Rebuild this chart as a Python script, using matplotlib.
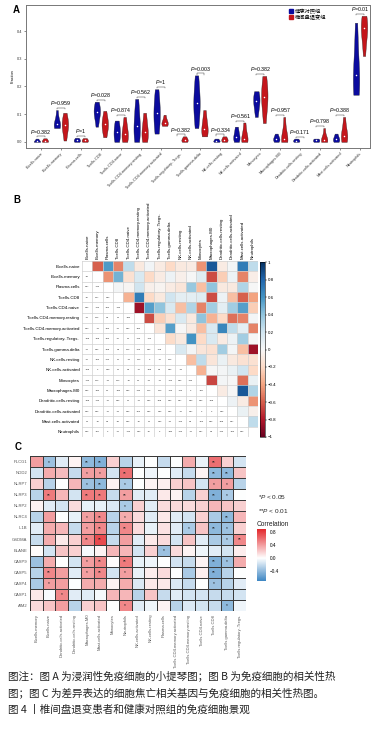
import numpy as np
import matplotlib
matplotlib.use("Agg")
import matplotlib.pyplot as plt
from matplotlib.patches import Patch
from matplotlib.colors import LinearSegmentedColormap, Normalize

plt.rcParams['font.family'] = ['Liberation Sans', 'Noto Sans CJK SC', 'DejaVu Sans']
plt.rcParams['mathtext.fontset'] = 'custom'
plt.rcParams['mathtext.it'] = 'Liberation Sans:italic'
plt.rcParams['mathtext.rm'] = 'Liberation Sans'

W, H = 384, 733

# ---------------- data: panel A (violins) ----------------
cell_types = ['B.cells.naive', 'B.cells.memory', 'Plasma.cells', 'T.cells.CD8',
              'T.cells.CD4.naive', 'T.cells.CD4.memory.resting',
              'T.cells.CD4.memory.activated', 'T.cells.regulatory..Tregs.',
              'T.cells.gamma.delta', 'NK.cells.resting', 'NK.cells.activated',
              'Monocytes', 'Macrophages.M0', 'Dendritic.cells.resting',
              'Dendritic.cells.activated', 'Mast.cells.activated', 'Neutrophils']

ctrl = [[0, 0, 0.002, 0.006, 0.012],
        [0.05, 0.055, 0.062, 0.064, 0.08, 0.115],
        [0, 0.003, 0.006, 0.01, 0.015],
        [0.055, 0.09, 0.105, 0.112, 0.125, 0.145],
        [0.0, 0.01, 0.03, 0.04, 0.06, 0.077],
        [0, 0.02, 0.05, 0.065, 0.11, 0.155],
        [0.03, 0.06, 0.1, 0.11, 0.15, 0.19],
        [0, 0, 0, 0, 0],
        [0.05, 0.1, 0.13, 0.15, 0.19, 0.24],
        [0, 0.002, 0.004, 0.008, 0.012],
        [0, 0.01, 0.015, 0.02, 0.04, 0.055],
        [0.09, 0.12, 0.145, 0.152, 0.165, 0.183],
        [0, 0.005, 0.01, 0.012, 0.02, 0.03],
        [0, 0.002, 0.005, 0.008, 0.012],
        [0, 0.002, 0.006, 0.009, 0.012],
        [0, 0.004, 0.008, 0.012, 0.02, 0.03],
        [0.17, 0.19, 0.2, 0.24, 0.27, 0.35, 0.43]]

disease = [[0, 0.001, 0.004, 0.008, 0.013],
           [0.005, 0.04, 0.06, 0.065, 0.075, 0.105],
           [0, 0.002, 0.006, 0.009, 0.014],
           [0.017, 0.045, 0.06, 0.068, 0.08, 0.112],
           [0, 0.01, 0.025, 0.032, 0.055, 0.09],
           [0, 0.015, 0.03, 0.04, 0.07, 0.105],
           [0.058, 0.063, 0.067, 0.07, 0.08, 0.098],
           [0, 0.003, 0.008, 0.012, 0.02],
           [0.02, 0.03, 0.045, 0.05, 0.08, 0.115],
           [0, 0.004, 0.008, 0.013, 0.02],
           [0, 0.005, 0.01, 0.012, 0.04, 0.07],
           [0.068, 0.13, 0.155, 0.168, 0.2, 0.238],
           [0, 0.003, 0.008, 0.01, 0.04, 0.09],
           [0, 0, 0, 0, 0],
           [0, 0.003, 0.005, 0.008, 0.02, 0.05],
           [0, 0.01, 0.02, 0.025, 0.05, 0.09],
           [0.31, 0.36, 0.39, 0.41, 0.42, 0.44, 0.455]]

p_values = ['0.382', '0.959', '1', '0.028', '0.874', '0.562', '1', '0.382', '0.003',
            '0.334', '0.561', '0.382', '0.957', '0.171', '0.798', '0.388', '0.01']

group_names = ['健康对照组', '椎间盘退变组']

# ---------------- data: panel B (correlation of immune cells) ----------------
# upper triangle, row i holds columns i+1 .. 16
b_upper = [
    [-0.6, 0.57, -0.5, 0.25, -0.1, 0.03, -0.08, -0.2, -0.1, -0.08, -0.45, 0.85, -0.08, 0.02, 0.7, 0.25],
    [-0.45, 0.47, -0.15, 0.15, -0.2, -0.08, 0.05, -0.05, 0.0, 0.12, -0.65, -0.25, 0.05, -0.5, -0.07],
    [0.02, -0.02, 0.2, -0.05, -0.03, -0.08, -0.12, 0.38, -0.3, 0.4, -0.1, -0.1, 0.3, 0.0],
    [-0.35, 0.7, -0.2, -0.1, 0.2, 0.1, 0.1, 0.12, -0.65, 0.05, -0.3, -0.6, -0.4],
    [-0.85, 0.55, 0.4, 0.15, -0.3, 0.3, -0.5, 0.35, 0.1, 0.35, 0.55, -0.25],
    [-0.65, -0.25, -0.15, 0.15, -0.1, 0.4, -0.35, -0.2, -0.55, -0.5, 0.02],
    [-0.12, 0.55, 0.0, -0.08, -0.3, 0.15, 0.65, 0.25, 0.1, -0.5],
    [-0.18, -0.1, 0.6, -0.2, 0.15, -0.08, 0.05, 0.35, 0.0],
    [0.15, 0.02, -0.12, -0.15, 0.35, 0.02, -0.3, -0.85],
    [-0.3, 0.25, -0.12, 0.07, -0.1, -0.15, -0.15],
    [-0.35, 0.0, 0.02, 0.07, 0.2, -0.2],
    [-0.67, 0.02, 0.0, -0.55, 0.07],
    [-0.08, 0.0, 0.85, 0.3],
    [0.05, -0.08, -0.45],
    [0.07, -0.05],
    [0.25],
]

# ---------------- data: panel C (genes vs immune cells) ----------------
genes = ['PLCG1', 'NOD2', 'NLRP7', 'NLRP3', 'NLRP2', 'NLRC4', 'IL1B', 'GSDMA',
         'ELANE', 'CASP9', 'CASP5', 'CASP4', 'CASP1', 'AIM2']
c_cells = ['B.cells.memory', 'B.cells.naive', 'Dendritic.cells.activated',
           'Dendritic.cells.resting', 'Macrophages.M0', 'Mast.cells.activated',
           'Monocytes', 'Neutrophils', 'NK.cells.activated', 'NK.cells.resting',
           'Plasma.cells', 'T.cells.CD4.memory.activated', 'T.cells.CD4.memory.resting',
           'T.cells.CD4.naive', 'T.cells.CD8', 'T.cells.gamma.delta',
           'T.cells.regulatory..Tregs.']
c_vals = [
    [0.4, -0.35, -0.1, 0.05, -0.4, -0.45, 0.2, -0.25, -0.08, 0.0, -0.2, 0.0, 0.35, -0.07, 0.6, 0.2, -0.15],
    [-0.15, 0.35, 0.28, -0.2, 0.4, 0.4, -0.15, 0.6, 0.0, -0.05, 0.0, -0.1, -0.2, 0.05, -0.4, -0.4, 0.25],
    [0.2, -0.25, 0.0, 0.3, -0.35, -0.4, 0.05, -0.3, 0.0, 0.05, 0.07, 0.2, 0.25, -0.15, 0.4, 0.4, -0.25],
    [-0.25, 0.55, 0.3, -0.15, 0.55, 0.55, -0.2, 0.4, -0.1, -0.1, 0.1, 0.05, -0.25, 0.2, -0.45, -0.3, 0.0],
    [0.05, -0.1, -0.15, 0.15, -0.08, -0.08, -0.12, -0.3, 0.2, -0.1, 0.15, 0.15, 0.15, 0.2, 0.3, 0.25, 0.2],
    [-0.25, 0.4, 0.0, -0.08, 0.4, 0.5, -0.25, 0.35, 0.15, -0.1, 0.1, -0.1, -0.15, 0.2, -0.3, -0.4, 0.3],
    [-0.1, 0.35, 0.3, -0.2, 0.4, 0.5, -0.25, 0.5, 0.15, -0.08, 0.12, -0.1, -0.3, 0.25, -0.4, -0.35, 0.2],
    [-0.2, 0.35, 0.1, 0.2, 0.5, 0.75, -0.2, 0.4, -0.1, 0.1, 0.15, -0.15, 0.25, -0.1, -0.3, -0.3, 0.5],
    [0.02, -0.15, 0.25, 0.2, -0.03, 0.05, 0.3, 0.3, -0.15, 0.2, -0.35, 0.15, 0.05, -0.05, -0.1, -0.15, 0.08],
    [-0.35, 0.35, 0.0, -0.15, 0.4, 0.5, 0.02, 0.55, -0.08, -0.05, 0.0, -0.15, -0.2, 0.05, -0.45, -0.35, 0.35],
    [-0.25, 0.5, 0.4, -0.1, 0.4, 0.5, -0.15, 0.4, -0.08, 0.08, 0.15, 0.0, -0.3, 0.07, -0.45, -0.25, 0.0],
    [-0.3, 0.4, 0.4, 0.0, 0.35, 0.35, 0.05, 0.35, -0.12, 0.1, 0.1, -0.12, -0.2, 0.0, -0.35, -0.25, -0.1],
    [0.1, -0.02, 0.5, -0.1, -0.1, -0.03, 0.3, 0.3, -0.25, 0.25, -0.2, -0.1, -0.15, -0.15, -0.2, -0.2, -0.15],
    [0.15, 0.25, 0.4, -0.25, 0.2, 0.25, 0.0, 0.5, -0.1, -0.05, 0.05, -0.25, -0.12, -0.15, -0.2, -0.4, -0.05],
]
# 0 = ns, 1 = *, 2 = **
c_sig = ['01002200000000200', '00001102000000220', '00001201000000110',
         '02002202000000210', '00000001000000000', '00001201000000020',
         '00001202000010210', '00002200000000012', '00000000001000000',
         '00001202000000210', '02001201000000200', '01000000000000100',
         '00100000000000000', '00000001000000010']

caption = ['图注：图 A 为浸润性免疫细胞的小提琴图；图 B 为免疫细胞的相关性热',
           '图；图 C 为差异表达的细胞焦亡相关基因与免疫细胞的相关性热图。',
           '图 4 丨椎间盘退变患者和健康对照组的免疫细胞景观']


def box(x0, y0, x1, y1):
    return [x0 / W, 1 - y1 / H, (x1 - x0) / W, (y1 - y0) / H]


fig = plt.figure(figsize=(W / 100, H / 100), dpi=100)

# ================= panel A =================
blue, red = '#0B0B9E', '#C4161C'
ax = fig.add_axes(box(26, 5, 370, 148))
for i in range(len(cell_types)):
    for vals, off, col in [(ctrl[i], -0.2, blue), (disease[i], 0.2, red)]:
        v = np.array(vals, dtype=float)
        if np.ptp(v) == 0:
            continue
        parts = ax.violinplot([v], positions=[i + off], widths=0.32,
                              showextrema=False, bw_method=0.8)
        for b in parts['bodies']:
            b.set_facecolor(col)
            b.set_edgecolor('#222222')
            b.set_linewidth(0.25)
            b.set_alpha(1)
        ax.scatter([i + off], [np.median(v)], s=1.2, c='white', zorder=3, linewidths=0)
    top = max(max(ctrl[i]), max(disease[i])) + 0.007
    ax.plot([i - 0.2, i - 0.2, i + 0.2, i + 0.2], [top - 0.004, top, top, top - 0.004],
            color='#222222', lw=0.3)
    ax.text(i, top + 0.003, r'$P$=' + p_values[i], ha='center', va='bottom', fontsize=3.8)

ax.set_xlim(-0.75, 16.5)
ax.set_ylim(-0.022, 0.494)
ax.set_yticks([0, 0.1, 0.2, 0.3, 0.4])
ax.set_yticklabels(['0.0', '0.1', '0.2', '0.3', '0.4'])
ax.set_xticks(range(len(cell_types)))
ax.set_xticklabels(cell_types, rotation=45, ha='right', rotation_mode='anchor')
ax.tick_params(labelsize=2.8, length=1.5, width=0.4, pad=1, colors='#333333')
ax.set_ylabel('Fraction', fontsize=2.8, labelpad=2)
for s in ax.spines.values():
    s.set_color('#777777')
    s.set_linewidth(0.7)
ax.legend(handles=[Patch(color=blue), Patch(color=red)], labels=group_names,
          loc='upper left', bbox_to_anchor=(0.755, 1.0), frameon=False, fontsize=3.8,
          handlelength=0.8, handleheight=0.8, handletextpad=0.4, labelspacing=0.15,
          borderaxespad=0.2)
fig.text(13 / W, 1 - 10 / H, 'A', fontsize=7, fontweight='bold', va='center')

# ================= panel B =================
n = len(cell_types)
M = np.eye(n)
for i, row in enumerate(b_upper):
    for k, v in enumerate(row):
        j = i + 1 + k
        M[i, j] = v
        M[j, i] = v

cmapB = plt.get_cmap('RdBu')
normB = Normalize(-1, 1)
rgba = cmapB(normB(M))
for i in range(n):
    for j in range(n):
        if j <= i:
            rgba[i, j] = (1, 1, 1, 1)

axB = fig.add_axes(box(82, 261, 258, 437))
axB.imshow(rgba, aspect='auto', interpolation='nearest')
for k in range(n + 1):
    axB.axhline(k - 0.5, color='#d0d0d0', lw=0.5)
    axB.axvline(k - 0.5, color='#d0d0d0', lw=0.5)
for i in range(n):
    for j in range(i):
        s = f'{M[i, j]:.2f}'.rstrip('0').rstrip('.')
        if s in ('-0', ''):
            s = '0'
        axB.text(j, i, s, ha='center', va='center', fontsize=1.6, color='#222222')
axB.set_xticks(range(n))
axB.set_yticks(range(n))
axB.set_xticklabels(cell_types, rotation=90, fontsize=3.2)
axB.set_yticklabels(cell_types, fontsize=3.2)
axB.xaxis.tick_top()
axB.tick_params(length=0, pad=1.5)
for s in axB.spines.values():
    s.set_visible(False)

caxB = fig.add_axes(box(260, 262, 265, 437))
sm = plt.cm.ScalarMappable(norm=normB, cmap=cmapB)
cbB = fig.colorbar(sm, cax=caxB)
cbB.set_ticks(np.arange(-1, 1.01, 0.2))
cbB.set_ticklabels(['−1', '−0.8', '−0.6', '−0.4', '−0.2', '0', '0.2', '0.4', '0.6', '0.8', '1'])
cbB.ax.tick_params(labelsize=3.2, length=1.2, width=0.3, pad=1)
cbB.outline.set_linewidth(0.4)
fig.text(13 / W, 1 - 200 / H, 'B', fontsize=7, fontweight='bold', va='center')

# ================= panel C =================
C = np.array(c_vals)
cmapC = LinearSegmentedColormap.from_list(
    'bwr_c', [(0.0, '#3D86C3'), (0.44, '#FFFFFF'), (1.0, '#E3262A')])
normC = Normalize(-0.7, 0.9)
axC = fig.add_axes(box(30, 456, 246, 611))
axC.pcolormesh(np.arange(C.shape[1] + 1), np.arange(C.shape[0] + 1), C,
               cmap=cmapC, norm=normC, edgecolors='#3a3a3a', linewidth=0.7)
for i in range(C.shape[0]):
    for j in range(C.shape[1]):
        k = int(c_sig[i][j])
        if k:
            axC.text(j + 0.5, i + 0.55, '*' * k, ha='center', va='center',
                     fontsize=3.5, color='#222222')
axC.set_xlim(0, C.shape[1])
axC.set_ylim(C.shape[0], 0)
axC.set_xticks(np.arange(C.shape[1]) + 0.5)
axC.set_yticks(np.arange(C.shape[0]) + 0.5)
axC.set_xticklabels(c_cells, rotation=90, fontsize=3.0, color='#555555')
axC.set_yticklabels(genes, fontsize=3.0, color='#555555')
axC.tick_params(length=0, pad=2)
for s in axC.spines.values():
    s.set_visible(False)

fig.text(258 / W, 1 - 497 / H, r'*$P$ < 0.05', fontsize=4.6, va='center', color='#222222')
fig.text(258 / W, 1 - 511 / H, r'**$P$ < 0.01', fontsize=4.6, va='center', color='#222222')
fig.text(257 / W, 1 - 524 / H, 'Correlation', fontsize=4.8, va='center', color='#222222')
caxC = fig.add_axes(box(257, 529, 266, 581))
smC = plt.cm.ScalarMappable(norm=normC, cmap=cmapC)
cbC = fig.colorbar(smC, cax=caxC)
cbC.set_ticks([-0.4, 0.0, 0.4, 0.8])
cbC.set_ticklabels(['−0.4', '0.0', '0.4', '0.8'])
cbC.outline.set_visible(False)
cbC.ax.tick_params(labelsize=3.4, length=1.5, width=0.3, color='white', pad=1)
fig.text(15 / W, 1 - 447 / H, 'C', fontsize=7, fontweight='bold', va='center')

# ================= caption =================
for k, line in enumerate(caption):
    fig.text(8 / W, 1 - (676 + 16.5 * k) / H, line, fontsize=7.6, va='center',
             color='#222222', family=['Noto Sans CJK SC', 'DejaVu Sans'],
             fontweight='medium' if k == 2 else 'normal')

fig.savefig('out.png', dpi=100)
